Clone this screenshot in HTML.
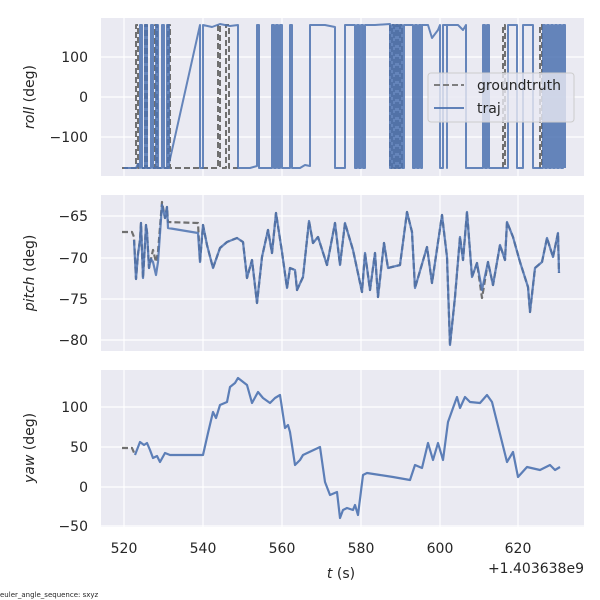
<!DOCTYPE html>
<html><head><meta charset="utf-8"><style>body{margin:0;background:#fff}svg{display:block;font-family:"DejaVu Sans","Liberation Sans",sans-serif}</style></head><body>
<svg width="600" height="600" viewBox="0 0 600 600" xmlns="http://www.w3.org/2000/svg">
<defs>
<clipPath id="c1"><rect x="101" y="18" width="483" height="158"/></clipPath>
<clipPath id="c2"><rect x="101" y="195" width="483" height="156"/></clipPath>
<clipPath id="c3"><rect x="101" y="370" width="483" height="157"/></clipPath>
</defs>
<g fill="#EAEAF2"><rect x="101" y="18" width="483" height="158"/><rect x="101" y="195" width="483" height="156"/><rect x="101" y="370" width="483" height="157"/></g>
<g stroke="#fff" stroke-width="1.2">
<path d="M124,18V176M203,18V176M282,18V176M361,18V176M440,18V176M518,18V176M101,57H584M101,97H584M101,137H584"/>
<path d="M124,195V351M203,195V351M282,195V351M361,195V351M440,195V351M518,195V351M101,216H584M101,258H584M101,299H584M101,340H584"/>
<path d="M124,370V527M203,370V527M282,370V527M361,370V527M440,370V527M518,370V527M101,407H584M101,447H584M101,487H584M101,526H584"/>
</g>
<!-- roll -->
<g clip-path="url(#c1)" fill="none" stroke-linejoin="round">
<path stroke="#707070" stroke-width="2" stroke-dasharray="6,3" d="M122,168H136V25H138V168H145V25H147V168H155V25H157V168H168V25H170V168H218V25H220V168H226V25H229V168H238M390,25V168H392V25H394V168H396V25H398V168H400V25H402V168M503,168V25H505V168M540,168V25H542V168"/>
<path stroke="#4C72B0" stroke-opacity="0.85" stroke-width="2" d="M124,168H136l2,-4 2,4V25h2V168h3V25h2V168h4V25h2V168h3V25h2V168h4V25h2V168h3V25h2V168H168L200,25V168H203V25L212,27 220,24 230,26 238,25V168H250L257,166V25H259V168H272V25h2V168h2V25h2V168h2V25h2V168H290V25H292V168H300L305,165 310,166V25H325L335,27V168H345V25H355V168h2V25h2V168h2V25h2V168h2V25H375L390,24V168h2V25h2V168h2V25h2V168h2V25h2V168h2V25H408L413,25V168h2V25h2V168h2V25h2V168H422V25H428L432,38 438,30 440,25V168h3V25h4V168H447V25H458L463,30 466,25V168H483V25h2V168h2V25h2V168H508V25H517V168H523V25H533V168H543V25h2V168h2V25h2V168h2V25h2V168h2V25h2V168h2V25h2V168h2V25h2V168"/>
</g>
<!-- pitch -->
<g clip-path="url(#c2)" fill="none" stroke-linejoin="round">
<path stroke="#707070" stroke-width="2.2" stroke-dasharray="6,3" d="M122,232L132,232 134,237 136,279 138,254 140,240 141,223 143,278 145,244 146,225 147,232 149,268 151,259 153,250 156,262 158,252 162,202 165,218 167,207 168,222 198,223 200,262 203,225 207,245 213,268 220,248 227,242 237,238 243,242 247,278 252,260 257,303 262,257 268,230 272,253 276,213 282,252 287,288 290,268 295,270 297,290 303,277 309,221 313,243 318,237 327,265 335,223 340,265 345,223 353,250 362,292 365,253 370,290 375,253 378,297 384,243 388,268 400,265 407,212 412,232 415,288 427,247 432,283 442,215 447,257 450,345 455,297 460,237 463,260 467,212 472,277 477,263 482,298 488,262 493,285 500,245 505,260 507,222 513,237 520,262 528,287 530,312 535,268 542,262 547,238 553,257 558,233 559,273"/>
<path stroke="#4C72B0" stroke-opacity="0.85" stroke-width="2.2" d="M134,240L136,279 138,254 140,240 141,223 143,278 145,244 146,225 147,232 149,268 151,259 153,262 156,275 158,262 162,205 165,218 167,207 168,228 198,233 200,262 203,225 207,245 213,268 220,248 227,242 237,238 243,242 247,278 252,260 257,303 262,257 268,230 272,253 276,213 282,252 287,288 290,268 295,270 297,290 303,277 309,221 313,243 318,237 327,265 335,223 340,265 345,223 353,250 362,292 365,253 370,290 375,253 378,297 384,243 388,268 400,265 407,212 412,232 415,288 427,247 432,283 442,215 447,257 450,345 455,297 460,237 463,260 467,212 472,277 477,263 482,290 488,262 493,285 500,245 505,260 507,222 513,237 520,262 528,287 530,312 535,268 542,262 547,238 553,257 558,233 559,273"/>
</g>
<!-- yaw -->
<g clip-path="url(#c3)" fill="none" stroke-linejoin="round">
<path stroke="#707070" stroke-width="2.2" stroke-dasharray="6,3" d="M122,448L132,448 135,455"/>
<path stroke="#4C72B0" stroke-opacity="0.9" stroke-width="2.2" d="M135,455L140,442 144,445 147,443 150,450 153,458 157,456 160,462 165,453 170,455 203,455 208,433 213,412 216,418 220,405 227,402 230,387 235,383 238,378 247,385 252,403 258,392 263,398 270,403 275,398 280,395 285,428 288,425 290,432 295,465 300,460 303,455 320,447 325,482 330,495 337,492 340,518 343,510 347,508 353,510 355,505 358,515 363,475 367,473 380,475 393,477 410,480 415,465 422,468 428,443 433,460 438,443 443,460 448,422 453,408 457,397 460,408 465,397 470,402 480,403 487,395 492,402 507,462 513,452 518,477 527,467 540,470 550,465 555,470 560,467"/>
</g>
<!-- legend -->
<rect x="428" y="73" width="146" height="49" rx="3" fill="#EAEAF2" fill-opacity="0.8" stroke="#ccc"/>
<path d="M434,85H464" stroke="#707070" stroke-width="1.8" stroke-dasharray="6,3"/>
<path d="M434,108H464" stroke="#4C72B0" stroke-width="1.8"/>
<g font-size="14" fill="#262626">
<text x="477" y="90">groundtruth</text><text x="477" y="113">traj</text>
</g>
<!-- tick labels -->
<g font-size="14" fill="#262626" text-anchor="end">
<text x="88" y="62">100</text><text x="88" y="102">0</text><text x="88" y="142">−100</text>
<text x="88" y="221">−65</text><text x="88" y="263">−70</text><text x="88" y="304">−75</text><text x="88" y="345">−80</text>
<text x="88" y="412">100</text><text x="88" y="452">50</text><text x="88" y="492">0</text><text x="88" y="531">−50</text>
<text x="584" y="573">+1.403638e9</text>
</g>
<g font-size="14" fill="#262626" text-anchor="middle">
<text x="124" y="553">520</text><text x="203" y="553">540</text><text x="282" y="553">560</text><text x="361" y="553">580</text><text x="440" y="553">600</text><text x="518" y="553">620</text>
<text x="341" y="578"><tspan font-style="italic">t</tspan> (s)</text>
<text transform="translate(34,97) rotate(-90)"><tspan font-style="italic">roll</tspan> (deg)</text>
<text transform="translate(34,273) rotate(-90)"><tspan font-style="italic">pitch</tspan> (deg)</text>
<text transform="translate(34,448) rotate(-90)"><tspan font-style="italic">yaw</tspan> (deg)</text>
</g>
<text x="0" y="597" font-size="7" fill="#262626">euler_angle_sequence: sxyz</text>
</svg>
</body></html>
